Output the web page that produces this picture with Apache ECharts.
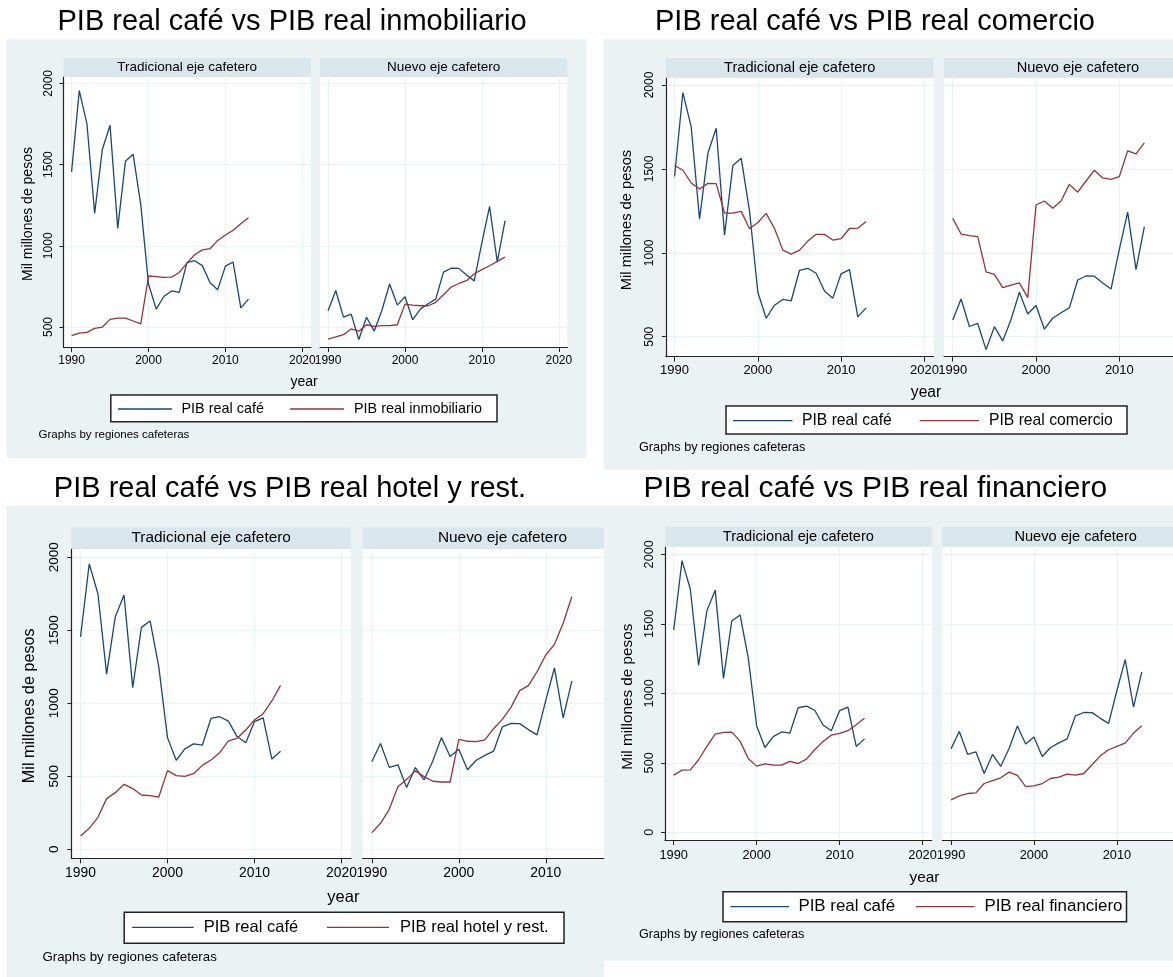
<!DOCTYPE html>
<html>
<head>
<meta charset="utf-8">
<script src="https://cdn.jsdelivr.net/npm/echarts@6/dist/echarts.min.js"></script>
<style>
  html, body { margin: 0; padding: 0; background: #fff; width: 1173px; height: 977px; overflow: hidden; }
  .pane { position: absolute; left: 0; top: 0; width: 1173px; height: 977px; }
</style>
</head>
<body>
<div id="p1" class="pane"></div>
<div id="p2" class="pane"></div>
<div id="p3" class="pane"></div>
<div id="p4" class="pane"></div>
<script>
// data (Mil millones de pesos)
const years = [1990, 1991, 1992, 1993, 1994, 1995, 1996, 1997, 1998, 1999, 2000, 2001,
               2002, 2003, 2004, 2005, 2006, 2007, 2008, 2009, 2010, 2011, 2012, 2013];
const regions = ["Tradicional eje cafetero", "Nuevo eje cafetero"];
const xTicks = [1990, 2000, 2010, 2020];
const yTicksTop = [500, 1000, 1500, 2000];
const yTicksBottom = [0, 500, 1000, 1500, 2000];

const cafeTrad  = [1455, 1955, 1750, 1200, 1593, 1742, 1107, 1520, 1564, 1250, 765, 610,
                   688, 722, 713, 896, 908, 878, 772, 730, 875, 900, 618, 672];
const cafeNuevo = [600, 725, 561, 579, 423, 560, 475, 603, 765, 635, 686, 545,
                   610, 643, 672, 838, 862, 861, 820, 784, 1020, 1242, 900, 1154];

const inmobTrad  = [447, 463, 467, 492, 500, 547, 555, 555, 537, 519, 814, 810,
                    805, 807, 836, 893, 945, 975, 982, 1033, 1066, 1096, 1135, 1172];
const inmobNuevo = [426, 439, 453, 488, 474, 514, 504, 508, 508, 514, 641, 635,
                    631, 631, 652, 699, 746, 768, 785, 828, 853, 877, 904, 930];

const comercioTrad  = [1520, 1492, 1416, 1380, 1414, 1412, 1237, 1237, 1247, 1143, 1181, 1235,
                       1145, 1016, 992, 1016, 1070, 1110, 1110, 1076, 1084, 1145, 1147, 1187];
const comercioNuevo = [1205, 1112, 1102, 1096, 886, 871, 793, 807, 821, 733, 1285, 1309,
                       1265, 1309, 1408, 1361, 1428, 1492, 1446, 1438, 1454, 1608, 1590, 1655];

const hotelTrad  = [91, 144, 219, 347, 388, 445, 416, 372, 368, 358, 539, 505,
                    500, 518, 575, 612, 662, 742, 760, 817, 886, 929, 1016, 1123];
const hotelNuevo = [114, 178, 274, 429, 479, 537, 498, 466, 461, 461, 753, 740,
                    737, 749, 826, 890, 972, 1087, 1121, 1217, 1331, 1404, 1548, 1731];

const finanTrad  = [411, 447, 449, 522, 618, 707, 719, 721, 656, 529, 476, 493,
                    483, 483, 510, 495, 526, 594, 654, 699, 711, 731, 774, 820];
const finanNuevo = [233, 262, 279, 284, 351, 372, 392, 433, 409, 329, 334, 351,
                    387, 397, 418, 411, 423, 486, 550, 594, 618, 642, 714, 767];

const FONT = '"Liberation Sans", Arial, Helvetica, sans-serif';
const NAVY = "#1a476f";
const MAROON = "#90353b";
const BG = "#eaf2f3";
const STRIP = "#d9e6eb";
const AXISC = "#222";

function pairs(arr) {
  return years.map((y, i) => [y, arr[i]]);
}

function plain(v) {
  return String(v);
}

function rect(x, y, w, h, fill, z) {
  return { type: "rect", z: z, shape: { x: x, y: y, width: w, height: h }, style: { fill: fill } };
}

function text(x, y, s, size, align, rot) {
  return {
    type: "text", z: 3, x: x, y: y, rotation: rot || 0,
    style: { text: s, fill: "#000", fontSize: size, fontFamily: FONT, align: align || "left", verticalAlign: "middle" }
  };
}

function buildPanel(id, p) {
  const chart = echarts.init(document.getElementById(id), null, { renderer: "canvas", width: 1173, height: 977 });
  const g = [];
  g.push(rect(p.bg[0], p.bg[1], p.bg[2], p.bg[3], BG, -10));
  p.lefts.forEach((l, i) => {
    g.push(rect(l, p.top, p.gw, p.h, "#fff", -9));
    g.push(rect(l, p.stripY, p.gw, p.stripH, STRIP, 1));
    g.push(text(l + p.gw / 2, p.stripY + p.stripH / 2, regions[i], p.stripFont, "center"));
  });
  g.push(text(p.title[0], p.title[1], p.titleText, p.titleSize, "center"));
  g.push(text(p.yTitle[0], p.yTitle[1], "Mil millones de pesos", p.yTitle[2], "center", Math.PI / 2));
  g.push(text(p.year[0], p.year[1], "year", p.year[2], "center"));
  g.push(text(p.note[0], p.note[1], "Graphs by regiones cafeteras", p.note[2], "left"));

  // legend box
  const lg = p.legend;
  g.push({ type: "rect", z: 5, shape: { x: lg.box[0], y: lg.box[1], width: lg.box[2], height: lg.box[3] },
           style: { fill: "#fff", stroke: AXISC, lineWidth: 1.5 } });
  g.push({ type: "line", z: 6, shape: { x1: lg.l1[0], y1: lg.y, x2: lg.l1[1], y2: lg.y }, style: { stroke: NAVY, lineWidth: 1.3 } });
  g.push({ type: "line", z: 6, shape: { x1: lg.l2[0], y1: lg.y, x2: lg.l2[1], y2: lg.y }, style: { stroke: MAROON, lineWidth: 1.3 } });
  const t1 = text(lg.t1, lg.y, "PIB real café", lg.size, "left"); t1.z = 6; g.push(t1);
  const t2 = text(lg.t2, lg.y, p.sectorName, lg.size, "left"); t2.z = 6; g.push(t2);

  const grids = p.lefts.map(l => ({ left: l, top: p.top, width: p.gw, height: p.h, show: false, outerBoundsMode: "none" }));
  const xAxes = p.lefts.map((l, i) => ({
    type: "value", gridIndex: i, min: 1988.95, max: 2021.1,
    axisLine: { show: true, onZero: false, lineStyle: { color: AXISC, width: 1.2 } },
    axisTick: { show: true, length: 5, customValues: xTicks, lineStyle: { color: AXISC } },
    axisLabel: { customValues: xTicks, formatter: plain, fontSize: p.xFont, fontFamily: FONT, color: "#000", margin: p.xMargin },
    splitLine: { show: true, lineStyle: { color: BG, width: 1.2 } }
  }));
  const yAxes = p.lefts.map((l, i) => ({
    type: "value", gridIndex: i, min: p.yMin, max: p.yMax,
    axisLine: { show: i === 0, onZero: false, lineStyle: { color: AXISC, width: 1.2 } },
    axisTick: { show: i === 0, length: 4, customValues: p.yTicks, lineStyle: { color: AXISC } },
    axisLabel: { show: i === 0, customValues: p.yTicks, formatter: plain, rotate: 90, fontSize: p.yFont, fontFamily: FONT, color: "#000", margin: p.yMargin },
    splitLine: { show: true, lineStyle: { color: BG, width: 1.2 } }
  }));
  const series = [];
  [[cafeTrad, p.sector[0]], [cafeNuevo, p.sector[1]]].forEach((pair, i) => {
    series.push({ type: "line", xAxisIndex: i, yAxisIndex: i, data: pairs(pair[0]), showSymbol: false,
                  lineStyle: { color: NAVY, width: 1.3 }, itemStyle: { color: NAVY } });
    series.push({ type: "line", xAxisIndex: i, yAxisIndex: i, data: pairs(pair[1]), showSymbol: false,
                  lineStyle: { color: MAROON, width: 1.3 }, itemStyle: { color: MAROON } });
  });

  chart.setOption({
    animation: false,
    graphic: g,
    grid: grids,
    xAxis: xAxes,
    yAxis: yAxes,
    series: series
  });
}

buildPanel("p1", {
  titleText: "PIB real café vs PIB real inmobiliario", title: [292, 22], titleSize: 29,
  bg: [6.5, 39, 580, 419],
  top: 77, h: 270, lefts: [63.5, 320], gw: 247.3, yMin: 377, yMax: 2039, yTicks: yTicksTop,
  stripY: 58, stripH: 19, stripFont: 13.5,
  xFont: 12, xMargin: 7.5, yFont: 12, yMargin: 9,
  yTitle: [27.7, 214, 14], year: [304, 381.7, 14], note: [38.5, 435, 11.5],
  legend: { box: [110.8, 395, 386.2, 26.7], y: 409, l1: [118, 172], t1: 181.5, l2: [290, 344], t2: 354, size: 14.4 },
  sector: [inmobTrad, inmobNuevo], sectorName: "PIB real inmobiliario"
});

buildPanel("p2", {
  titleText: "PIB real café vs PIB real comercio", title: [875, 22], titleSize: 29,
  bg: [603.7, 39, 600, 431],
  top: 77.7, h: 279, lefts: [665.8, 944], gw: 267.8, yMin: 381, yMax: 2043.5, yTicks: yTicksTop,
  stripY: 58.3, stripH: 19.4, stripFont: 14.6,
  xFont: 13, xMargin: 7.5, yFont: 12, yMargin: 10.5,
  yTitle: [627.4, 220, 14.7], year: [926, 393, 15.6], note: [639, 447.3, 12.7],
  legend: { box: [726, 406, 401, 28], y: 420.7, l1: [733, 792.5], t1: 802, l2: [919.7, 979], t2: 989, size: 15.7 },
  sector: [comercioTrad, comercioNuevo], sectorName: "PIB real comercio"
});

buildPanel("p3", {
  titleText: "PIB real café vs PIB real hotel y rest.", title: [290, 489.3], titleSize: 29,
  bg: [6.6, 505.7, 597.4, 471.3],
  top: 549, h: 309.3, lefts: [71.4, 362.7], gw: 279.6, yMin: -61.6, yMax: 2056.8, yTicks: yTicksBottom,
  stripY: 527.3, stripH: 21.7, stripFont: 15.4,
  xFont: 13.9, xMargin: 8, yFont: 13.5, yMargin: 10.5,
  yTitle: [30, 705.8, 16.2], year: [343.4, 897.3, 16.5], note: [42.4, 957.7, 13.3],
  legend: { box: [124.2, 912.3, 439.8, 31], y: 927.3, l1: [132, 193.7], t1: 203.7, l2: [327, 389], t2: 400, size: 16.5 },
  sector: [hotelTrad, hotelNuevo], sectorName: "PIB real hotel y rest."
});

buildPanel("p4", {
  titleText: "PIB real café vs PIB real financiero", title: [875.3, 488.3], titleSize: 30,
  bg: [604, 505.7, 569, 455],
  top: 546.7, h: 293.3, lefts: [665, 942.3], gw: 266.7, yMin: -55.4, yMax: 2054.7, yTicks: yTicksBottom,
  stripY: 526.7, stripH: 20, stripFont: 14.6,
  xFont: 12.8, xMargin: 8.5, yFont: 12.7, yMargin: 9.3,
  yTitle: [627.4, 696.7, 15.3], year: [924.4, 877.3, 15.4], note: [639, 935, 12.6],
  legend: { box: [723, 891.7, 403.5, 30], y: 906.7, l1: [730.4, 789], t1: 798.4, l2: [916, 974.5], t2: 984.4, size: 16.9 },
  sector: [finanTrad, finanNuevo], sectorName: "PIB real financiero"
});
</script>
</body>
</html>
